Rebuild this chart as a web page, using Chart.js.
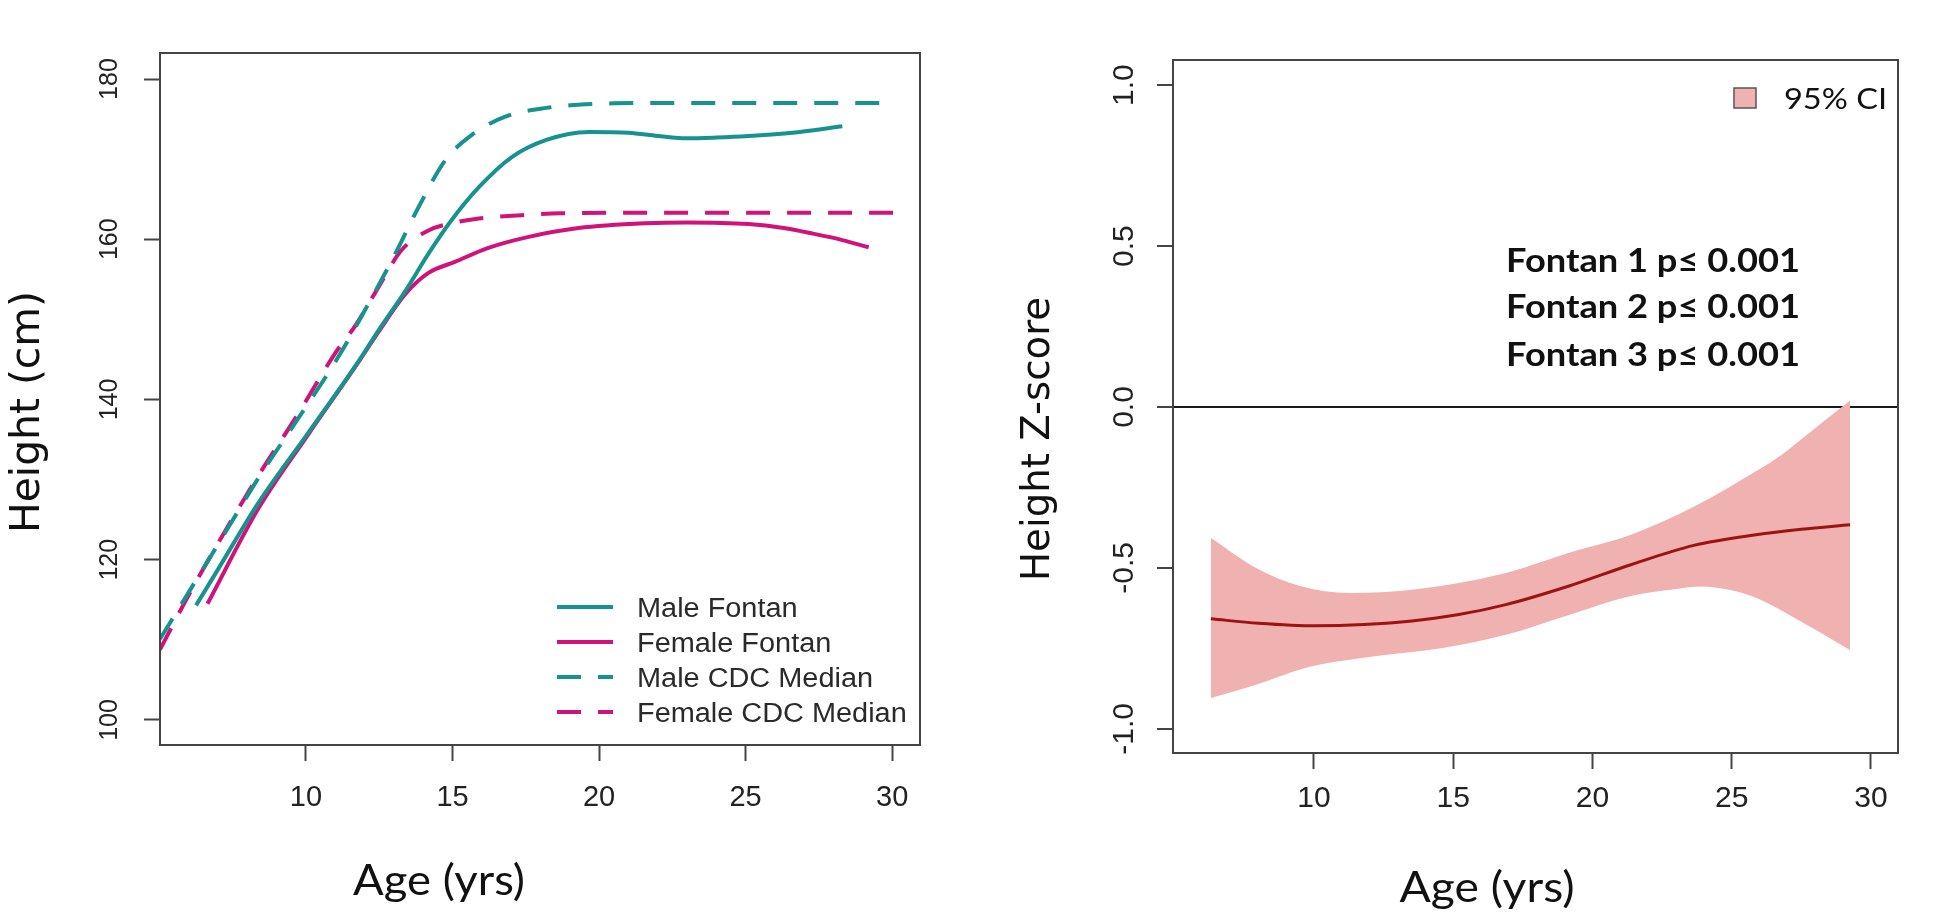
<!DOCTYPE html>
<html><head><meta charset="utf-8">
<script src="https://cdn.jsdelivr.net/npm/chart.js@4.4.0/dist/chart.umd.min.js"></script>
<style>
html,body{margin:0;padding:0;background:#fff;width:1950px;height:916px;overflow:hidden}
.panel{position:absolute;top:0;width:975px;height:916px}
#p1{left:0}#p2{left:975px}
</style></head><body>
<div class="panel" id="p1"><canvas id="c1" width="975" height="916"></canvas></div>
<div class="panel" id="p2"><canvas id="c2" width="975" height="916"></canvas></div>
<script>
// ---------- Left panel data ----------
const maleFontanAge    = [6.25,7.0,8.36,10.07,11.78,12.47,13.4,14.18,14.97,15.9,17.0,18.2,19.66,21.0,22.0,23.0,24.0,25.1,26.85,28.3];
const maleFontanHeight = [114.3,118.8,127.0,135.8,144.7,148.6,153.6,158.2,162.4,166.5,170.2,172.4,173.4,173.3,172.9,172.6,172.7,172.9,173.4,174.1];
const femaleFontanAge    = [6.64,8.36,10.07,11.78,12.47,13.4,14.18,15.1,16.2,17.6,19.3,21.6,23.0,25.1,26.3,27.3,28.3,29.2];
const femaleFontanHeight = [114.5,126.3,135.6,144.6,148.4,153.2,155.8,157.2,158.9,160.3,161.4,162.0,162.1,161.9,161.4,160.7,159.9,159.0];
const maleCdcAge    = [5.02,6.06,7.23,8.36,9.73,11.1,12.2,13.05,13.84,14.76,15.65,16.8,18.2,19.9,21.6,30.1];
const maleCdcHeight = [110.1,116.3,123.3,130.1,137.6,145.3,152.4,158.2,164.0,169.9,173.0,175.3,176.4,176.9,177.0,177.0];
const femaleCdcAge    = [5.02,6.06,7.23,8.36,9.73,11.0,11.68,12.47,13.25,14.18,15.1,15.9,17.36,18.7,21.6,30.1];
const femaleCdcHeight = [108.8,116.0,123.5,130.4,138.2,145.8,149.2,154.0,158.6,161.1,162.1,162.6,163.0,163.25,163.3,163.3];
const seriesLabels = ['Male Fontan','Female Fontan','Male CDC Median','Female CDC Median'];
const ageTicks = [10,15,20,25,30];
const heightTicks = [100,120,140,160,180];

// ---------- Right panel data ----------
const zMeanAge = [6.3,8.0,10.07,11.8,13.52,15.2,16.89,19.16,21.38,23.64,25.87,27.5,29.25];
const zMean    = [-0.658,-0.672,-0.68,-0.676,-0.665,-0.645,-0.614,-0.556,-0.49,-0.43,-0.397,-0.38,-0.366];
const zUpperAge = [6.3,7.92,9.5,11.29,13.52,16.89,19.16,21.38,23.64,25.87,26.77,27.5,29.25];
const zUpper    = [-0.407,-0.5,-0.556,-0.578,-0.568,-0.516,-0.453,-0.397,-0.31,-0.2,-0.15,-0.1,0.02];
const zLowerAge = [6.3,7.92,9.71,11.72,14.67,16.89,19.16,21.38,22.96,23.9,24.9,25.87,27.45,29.25];
const zLower    = [-0.904,-0.863,-0.81,-0.78,-0.748,-0.708,-0.646,-0.587,-0.566,-0.558,-0.568,-0.593,-0.665,-0.755];
const zTicks = [-1.0,-0.5,0.0,0.5,1.0];
const ciLabel = '95% CI';
const annotations = ['Fontan 1 p\u2264 0.001','Fontan 2 p\u2264 0.001','Fontan 3 p\u2264 0.001'];
const titleHeight = 'Height (cm)';
const titleZ = 'Height Z-score';
const titleAge = 'Age (yrs)';

const TEAL = '#17938f', MAGENTA = '#cf137b', BAND = '#f0b1b1', MEANC = '#9e1212', AXC = '#444';
const zip = (a, b) => a.map((v, i) => ({x: v, y: b[i]}));

function fitText(ctx, text, font, x, y, width, align, rot, sx) {
  ctx.save();
  ctx.font = font;
  const w = ctx.measureText(text).width;
  ctx.translate(x, y);
  if (rot) ctx.rotate(rot);
  ctx.scale(width ? width / w : (sx || 1), 1);
  ctx.textAlign = align || 'left';
  ctx.fillStyle = '#111';
  ctx.fillText(text, 0, 0);
  ctx.restore();
}

const boxPlugin = {
  id: 'boxPlugin',
  afterDraw(chart) {
    const {ctx, chartArea: a} = chart;
    ctx.save(); ctx.strokeStyle = AXC; ctx.lineWidth = 2;
    ctx.strokeRect(a.left, a.top, a.right - a.left, a.bottom - a.top);
    ctx.restore();
  }
};

const leftExtras = {
  id: 'leftExtras',
  afterDraw(chart) {
    const ctx = chart.ctx;
    chart.data.datasets.forEach((ds, i) => {
      const y = 607 + i * 35;
      ctx.save();
      ctx.strokeStyle = ds.borderColor; ctx.lineWidth = 4;
      ctx.setLineDash(ds.borderDash || []);
      ctx.beginPath(); ctx.moveTo(557, y); ctx.lineTo(613, y); ctx.stroke();
      ctx.restore();
      ctx.save();
      ctx.font = '27px "Liberation Sans", Arial, sans-serif';
      ctx.fillStyle = '#2a2a2a';
      ctx.translate(637, y + 10); ctx.scale(1.07, 1);
      ctx.fillText(ds.label, 0, 0);
      ctx.restore();
    });
    ctx.save(); ctx.textBaseline = 'middle';
    fitText(ctx, titleHeight, '41px "DejaVu Sans", sans-serif', 28, 412, 242, 'center', -Math.PI / 2);
    ctx.restore();
    fitText(ctx, titleAge, '43px Lato, "Open Sans", sans-serif', 439, 895, 172, 'center');
  }
};

const rightExtras = {
  id: 'rightExtras',
  afterDraw(chart) {
    const ctx = chart.ctx;
    const ds = chart.data.datasets[1];
    ctx.save();
    ctx.fillStyle = ds.backgroundColor; ctx.strokeStyle = '#555'; ctx.lineWidth = 1.5;
    ctx.fillRect(759, 88, 22, 20); ctx.strokeRect(759, 88, 22, 20);
    ctx.restore();
    fitText(ctx, ciLabel, '28px Lato, "Open Sans", sans-serif', 809, 109, 103, 'left');
    const bl = [272, 318, 366];
    annotations.forEach((t, i) => fitText(ctx, t, 'bold 32px Lato, "Open Sans", sans-serif', 531, bl[i], 294, 'left'));
    ctx.save(); ctx.textBaseline = 'middle';
    fitText(ctx, titleZ, '39px "DejaVu Sans", sans-serif', 64, 439, 284, 'center', -Math.PI / 2);
    ctx.restore();
    fitText(ctx, titleAge, '43px Lato, "Open Sans", sans-serif', 512, 902, 175, 'center');
  }
};

const tickFont = (s) => ({family: '"Liberation Sans", Arial, sans-serif', size: s});
const gridTicks = (extra) => Object.assign({display: true, drawOnChartArea: false, drawTicks: true, tickLength: 16, tickColor: AXC, tickWidth: 2, color: 'rgba(0,0,0,0)'}, extra || {});

const lineDs = (label, data, color, dash) => ({
  label, data, borderColor: color, backgroundColor: color, borderWidth: 4,
  borderDash: dash, pointRadius: 0, fill: false, cubicInterpolationMode: 'monotone'
});

new Chart(document.getElementById('c1'), {
  type: 'line',
  data: {datasets: [
    lineDs(seriesLabels[0], zip(maleFontanAge, maleFontanHeight), TEAL, []),
    lineDs(seriesLabels[1], zip(femaleFontanAge, femaleFontanHeight), MAGENTA, []),
    lineDs(seriesLabels[2], zip(maleCdcAge, maleCdcHeight), TEAL, [24, 17]),
    lineDs(seriesLabels[3], zip(femaleCdcAge, femaleCdcHeight), MAGENTA, [24, 17])
  ]},
  options: {
    responsive: false, animation: false,
    layout: {padding: {left: 0, top: 53, right: 55, bottom: 0}},
    plugins: {legend: {display: false}, tooltip: {enabled: false}},
    scales: {
      x: {type: 'linear', min: 5.02, max: 30.95,
        afterFit(s) { s.height = 171; },
        afterBuildTicks(s) { s.ticks = ageTicks.map(v => ({value: v})); },
        grid: gridTicks(), border: {display: true, color: AXC, width: 2},
        ticks: {font: tickFont(29), color: '#222', padding: 20, maxRotation: 0, autoSkip: false}},
      y: {type: 'linear', min: 96.875, max: 183.25,
        afterFit(s) { s.width = 160; },
        afterBuildTicks(s) { s.ticks = heightTicks.map(v => ({value: v})); },
        grid: gridTicks(), border: {display: true, color: AXC, width: 2},
        ticks: {font: tickFont(25), color: '#222', padding: 13, minRotation: 90, maxRotation: 90, crossAlign: 'center', autoSkip: false}}
    }
  },
  plugins: [boxPlugin, leftExtras]
});

new Chart(document.getElementById('c2'), {
  type: 'line',
  data: {datasets: [
    {label: 'mean', data: zip(zMeanAge, zMean), borderWidth: 3, borderColor: MEANC, backgroundColor: MEANC, pointRadius: 0, fill: false, cubicInterpolationMode: 'monotone'},
    {label: ciLabel, data: zip(zUpperAge, zUpper), borderWidth: 0, borderColor: BAND, backgroundColor: BAND, pointRadius: 0, fill: '+1', cubicInterpolationMode: 'monotone'},
    {label: 'lower', data: zip(zLowerAge, zLower), borderWidth: 0, borderColor: BAND, backgroundColor: BAND, pointRadius: 0, fill: false, cubicInterpolationMode: 'monotone'}
  ]},
  options: {
    responsive: false, animation: false,
    layout: {padding: {left: 0, top: 60, right: 52, bottom: 0}},
    plugins: {legend: {display: false}, tooltip: {enabled: false}},
    scales: {
      x: {type: 'linear', min: 4.94, max: 30.97,
        afterFit(s) { s.height = 163; },
        afterBuildTicks(s) { s.ticks = ageTicks.map(v => ({value: v})); },
        grid: gridTicks(), border: {display: true, color: AXC, width: 2},
        ticks: {font: tickFont(30), color: '#222', padding: 12, maxRotation: 0, autoSkip: false}},
      y: {type: 'linear', min: -1.075, max: 1.078, z: 1,
        afterFit(s) { s.width = 198; },
        afterBuildTicks(s) { s.ticks = zTicks.map(v => ({value: v})); },
        grid: gridTicks({drawOnChartArea: true,
          color: c => (c.tick && Math.abs(c.tick.value) < 1e-9) ? '#1a1a1a' : 'rgba(0,0,0,0)',
          lineWidth: 2}),
        border: {display: true, color: AXC, width: 2},
        ticks: {font: tickFont(30), color: '#222', padding: 6, minRotation: 90, maxRotation: 90, crossAlign: 'center', autoSkip: false,
          callback: v => Number(v).toFixed(1)}}
    }
  },
  plugins: [boxPlugin, rightExtras]
});
</script>
</body></html>
